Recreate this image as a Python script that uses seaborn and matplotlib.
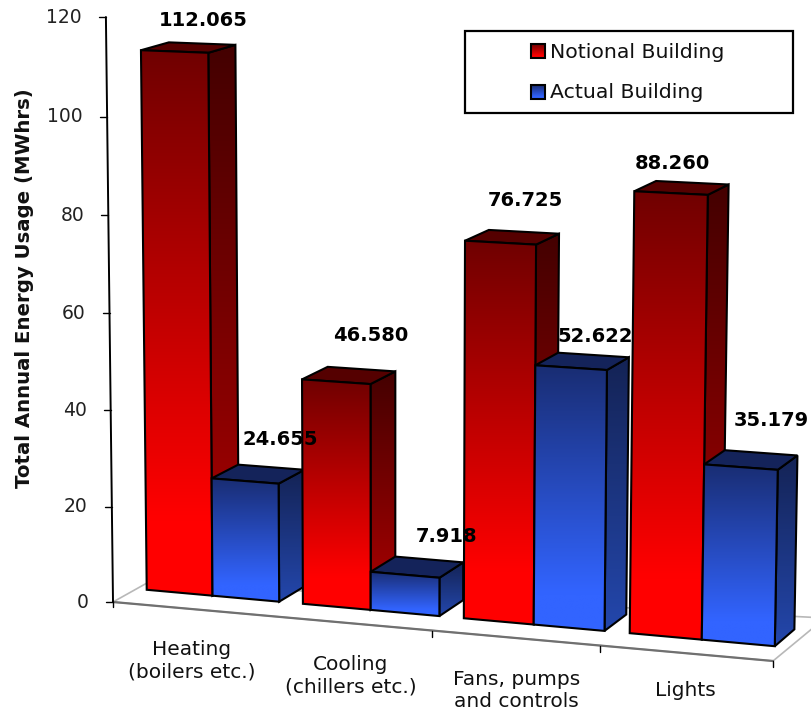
import numpy as np
import pandas as pd
import seaborn as sns
import matplotlib
matplotlib.use("Agg")
import matplotlib.pyplot as plt
from matplotlib.patches import Polygon, Rectangle
from matplotlib.transforms import Transform

# Values as printed above each bar (MWhrs)
categories = ["Heating\n(boilers etc.)", "Cooling\n(chillers etc.)",
              "Fans, pumps\nand controls", "Lights"]
buildings = ["Notional Building", "Actual Building"]
notional = [112.065, 46.580, 76.725, 88.260]
actual = [24.655, 7.918, 52.622, 35.179]
value_labels = ["112.065", "46.580", "76.725", "88.260",
                "24.655", "7.918", "52.622", "35.179"]
y_ticks = [0, 20, 40, 60, 80, 100, 120]

# Camera fitted to the reference: (category, value, depth) -> pixel
CAMERA = np.array([
    [1.52683205e+02, -8.06532545e-02, 2.97983289e+01, 2.12531219e+02],
    [5.17574456e+00, -4.85531293e+00, -7.12527065e+00, 5.95687758e+02],
    [-1.48176419e-02, -2.05693232e-04, 1.40992474e-02, 1.00000000e+00],
])
AXIS_U, AXIS_D = -0.490, -0.847

# Hand placed offsets, in pixels: value labels from the bar top, category labels from the floor edge
label_offsets = [(15, -27), (22, -40), (13, -37), (-9, -24),
                 (22, -35), (29, -31), (13, -25), (20, -39)]
category_offsets = [(-4, 31), (-10, 31), (-9, 31), (-5, 27)]

RED = {"front": ((112, 0, 0), (255, 0, 0)), "side": ((68, 0, 0), (170, 0, 0)), "top": (85, 0, 0)}
BLUE = {"front": ((25, 45, 115), (50, 100, 255)), "side": ((20, 35, 85), (35, 70, 170)), "top": (20, 35, 90)}
FRONT_RAMP, SIDE_RAMP = 0.86, 0.97


def project(u, v, d):
    h = CAMERA @ np.array([u, v, d, 1.0])
    return h[:2] / h[2]


class CameraTransform(Transform):
    """Takes seaborn's (category, value) coordinates onto a plane of fixed depth."""
    input_dims = 2
    output_dims = 2
    is_separable = False
    has_inverse = False

    def __init__(self, plane):
        super().__init__()
        self.plane = plane

    def transform_non_affine(self, values):
        values = np.asarray(values, dtype=float)
        return np.array([project(u, v, self.plane) for u, v in values])


def gradient_face(ax, poly, dark, bright, z, ramp=FRONT_RAMP):
    # Dark at the top, full colour near the bottom
    poly = np.array(poly)
    dark, bright = np.array(dark) / 255, np.array(bright) / 255
    t = np.clip(np.linspace(0, 1, 128) / ramp, 0, 1)[:, None, None]
    img = np.repeat(dark[None, None, :] + (bright - dark)[None, None, :] * t, 2, axis=1)
    im = ax.imshow(img, extent=(poly[:, 0].min(), poly[:, 0].max(), poly[:, 1].max(), poly[:, 1].min()),
                   aspect="auto", interpolation="bilinear", zorder=z)
    im.set_clip_path(Polygon(poly, transform=ax.transData))


def outline(ax, poly, z, face="none"):
    ax.add_patch(Polygon(poly, closed=True, facecolor=face, edgecolor="black",
                         linewidth=1.5, joinstyle="miter", zorder=z))


sns.set_style("white")
df = pd.DataFrame({
    "category": categories * 2,
    "building": [buildings[0]] * 4 + [buildings[1]] * 4,
    "value": notional + actual,
})

fig = plt.figure(figsize=(8.11, 7.12), dpi=100)
ax = fig.add_axes([0, 0, 1, 1])
sns.barplot(data=df, x="category", y="value", hue="building", order=categories,
            hue_order=buildings, width=0.85, gap=0, legend=False, ax=ax,
            palette=["#ff0000", "#3264ff"], edgecolor="black", linewidth=1.5, saturation=1)
bars = list(ax.patches)

ax.set_xlim(0, 811)
ax.set_ylim(712, 0)
ax.set_axis_off()

# Floor
ax.add_patch(Polygon([(113, 602), (147, 583), (825, 618), (773, 661)], closed=True,
                     facecolor="white", edgecolor="#b8b8b8", linewidth=1.2, zorder=1))
ax.plot([113, 773], [602, 661], color="#707070", linewidth=1.6, zorder=1.1)
for x in [432, 600, 773]:
    y = 602 + (x - 113) * 59 / 660
    ax.plot([x, x], [y, y + 6], color="black", linewidth=1, zorder=1.1)

# Value axis
axis_pts = np.array([project(AXIS_U, v, AXIS_D) for v in (0, 120)])
ax.plot(axis_pts[:, 0], axis_pts[:, 1], color="black", linewidth=1.4, zorder=1.2)
ax.plot(axis_pts[0, 0] * np.ones(2), [axis_pts[0, 1], axis_pts[0, 1] + 5], color="black", linewidth=1, zorder=1.2)
for tick in y_ticks:
    x, y = project(AXIS_U, tick, AXIS_D)
    ax.plot([x - 7, x], [y, y], color="black", linewidth=1, zorder=1.2)
    ax.text(x - 24, y, str(tick), ha="right", va="center", fontsize=13.5, color="#222222")

ax.text(25, 288, "Total Annual Energy Usage (MWhrs)", rotation=90, ha="center", va="center",
        fontsize=14.2, fontweight="bold", color="#111111")

# Bars, painted left to right so that each one covers its neighbour's side face
for idx, bar in sorted(enumerate(bars), key=lambda item: item[1].get_x()):
    u0, u1 = bar.get_x(), bar.get_x() + bar.get_width()
    v = bar.get_height()
    colours = RED if idx < 4 else BLUE
    z = 2 + u0 + 1
    side = [project(u1, v, 0), project(u1, v, 1), project(u1, 0, 1), project(u1, 0, 0)]
    top = [project(u0, v, 0), project(u1, v, 0), project(u1, v, 1), project(u0, v, 1)]
    front = [project(u0, v, 0), project(u1, v, 0), project(u1, 0, 0), project(u0, 0, 0)]
    gradient_face(ax, side, *colours["side"], z, ramp=SIDE_RAMP)
    outline(ax, side, z + 0.01)
    outline(ax, top, z + 0.02, face=np.array(colours["top"]) / 255)
    gradient_face(ax, front, *colours["front"], z + 0.03)
    # seaborn's own rectangle, taken through the camera, is the front outline
    bar.set_facecolor("none")
    bar.set_transform(CameraTransform(0.0) + ax.transData)
    bar.set_zorder(z + 0.04)

    cx, cy = project((u0 + u1) / 2, v, 0.5)
    dx, dy = label_offsets[idx]
    ax.text(cx + dx, cy + dy, value_labels[idx], ha="center", va="center", fontsize=14,
            fontweight="bold", color="black", zorder=20)

# Category labels, hung from the front edge of the floor
for i, name in enumerate(categories):
    x = 113 + (i + 0.5) * 165
    y = 602 + (x - 113) * 59 / 660
    dx, dy = category_offsets[i]
    ax.text(x + dx, y + dy, name, ha="center", va="top", fontsize=14.5, linespacing=1.2,
            color="#111111", zorder=20)

# Legend
ax.add_patch(Rectangle((465, 31), 328, 82, facecolor="white", edgecolor="black", linewidth=1.6, zorder=21))
for y, name, colours in zip([44, 85], buildings, [RED, BLUE]):
    box = [(531, y), (545, y), (545, y + 14), (531, y + 14)]
    gradient_face(ax, box, *colours["front"], 22)
    outline(ax, box, 22.1)
    ax.text(550, y + 8, name, ha="left", va="center", fontsize=14.7, color="#111111", zorder=22)

fig.savefig("out.png", dpi=100)
